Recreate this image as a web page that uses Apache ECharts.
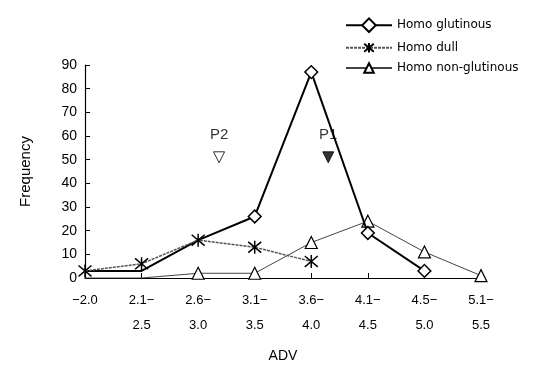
<!DOCTYPE html>
<html>
<head>
<meta charset="utf-8">
<script src="https://cdn.jsdelivr.net/npm/echarts@6/dist/echarts.min.js"></script>
<style>
  html, body { margin: 0; padding: 0; background: #fff; }
  #main { width: 537px; height: 365px; }
</style>
</head>
<body>
<div id="main"></div>
<script>
// ADV classes
var categories = ["-2.0", "2.1-2.5", "2.6-3.0", "3.1-3.5", "3.6-4.0", "4.1-4.5", "4.5-5.0", "5.1-5.5"];
var glutinous = [3, 3, 16, 26, 87, 19, 3, null];
var dull = [3, 6, 16, 13, 7, null, null, null];
var nonGlutinous = [0, 0, 2, 2, 15, 24, 11, 1];
// markers not visible in the picture
var glutinousNoMark = [0, 1, 2];
var nonGlutinousNoMark = [0, 1];
var yTicks = [0, 10, 20, 30, 40, 50, 60, 70, 80, 90];
// peak markers, x is position along the category index
var peaks = [
  { name: "P2", x: 2.37, y: 51, filled: false },
  { name: "P1", x: 4.3, y: 51, filled: true }
];

var font = "Liberation Sans, Arial, sans-serif";
var asterisk = "path://M0,0 L10,10 M10,0 L0,10 M5,-1 L5,11";

function withMarks(arr, hidden) {
  return arr.map(function (v, i) {
    return hidden.indexOf(i) >= 0 ? { value: v, symbol: "none" } : v;
  });
}

var myChart = echarts.init(document.getElementById("main"));
var option = {
  animation: false,
  backgroundColor: "#fff",
  textStyle: { fontFamily: font },
  grid: { left: 85, right: 56, top: 65, bottom: 87, outerBoundsMode: "none", containLabel: false },
  legend: {
    orient: "vertical",
    left: 340,
    top: 12,
    itemGap: 7,
    itemWidth: 46,
    itemHeight: 12,
    textStyle: { fontSize: 12, color: "#000", fontFamily: "DejaVu Sans, sans-serif" },
    data: ["Homo glutinous", "Homo dull", "Homo non-glutinous"]
  },
  xAxis: [
    {
      type: "category",
      data: categories,
      boundaryGap: false,
      name: "ADV",
      nameLocation: "middle",
      nameGap: 71,
      nameTextStyle: { fontSize: 14, color: "#000" },
      axisLine: { lineStyle: { color: "#000", width: 1.2 } },
      axisTick: { inside: true, length: 5, lineStyle: { color: "#000" } },
      axisLabel: {
        color: "#000",
        fontSize: 13,
        lineHeight: 25,
        margin: 10,
        formatter: function (v) {
          var p = v.split("-");
          if (p[0] === "") return "\u2212" + p[1];
          return p[0] + "\u2212\n" + p[1];
        }
      }
    },
    { type: "value", min: 0, max: 7, show: false }
  ],
  yAxis: {
    type: "value",
    min: yTicks[0],
    max: yTicks[yTicks.length - 1],
    interval: 10,
    name: "Frequency",
    nameLocation: "middle",
    nameGap: 52,
    nameTextStyle: { fontSize: 15, color: "#000" },
    splitLine: { show: false },
    axisLine: { show: true, lineStyle: { color: "#000", width: 1.2 } },
    axisTick: { show: true, inside: true, length: 5, lineStyle: { color: "#000" } },
    axisLabel: { color: "#000", fontSize: 14, margin: 8 }
  },
  series: [
    {
      name: "Homo non-glutinous",
      type: "line",
      data: withMarks(nonGlutinous, nonGlutinousNoMark),
      symbol: "triangle",
      symbolSize: 12,
      lineStyle: { color: "#444", width: 1 },
      itemStyle: { color: "#fff", borderColor: "#000", borderWidth: 1.2 },
      z: 2
    },
    {
      name: "Homo glutinous",
      type: "line",
      data: withMarks(glutinous, glutinousNoMark),
      symbol: "rect",
      symbolRotate: 45,
      symbolSize: 9,
      lineStyle: { color: "#000", width: 2 },
      itemStyle: { color: "#fff", borderColor: "#000", borderWidth: 1.5 },
      z: 3
    },
    {
      name: "Homo dull",
      type: "line",
      data: dull,
      symbol: asterisk,
      symbolSize: 13,
      lineStyle: { color: "#555", width: 1.5, type: [3, 1] },
      itemStyle: { color: "none", borderColor: "#000", borderWidth: 1.5 },
      z: 4
    },
    {
      type: "scatter",
      xAxisIndex: 1,
      data: peaks.map(function (p) {
        return {
          value: [p.x, p.y],
          itemStyle: { color: p.filled ? "#000" : "#fff" },
          label: { formatter: p.name }
        };
      }),
      symbol: "triangle",
      symbolRotate: 180,
      symbolSize: 11,
      itemStyle: { borderColor: "#000", borderWidth: 1 },
      label: { show: true, position: "top", distance: 9, fontSize: 15, color: "#000", fontFamily: font },
      z: 5
    }
  ]
};
myChart.setOption(option);
</script>
</body>
</html>
